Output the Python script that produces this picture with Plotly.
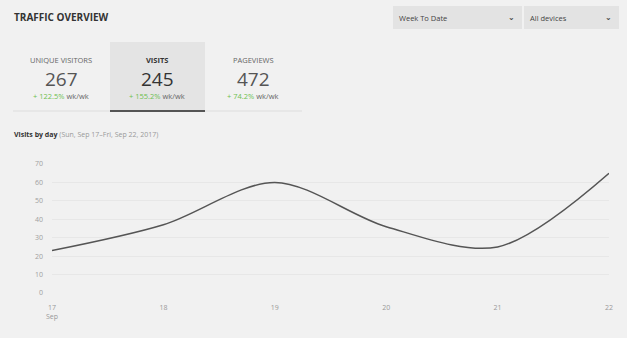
import plotly.graph_objects as go

# ---- data ----
days = [17, 18, 19, 20, 21, 22]
day_labels = ["17<br>Sep", "18", "19", "20", "21", "22"]
visits = [23, 37, 60, 36, 25, 65]
y_ticks = [0, 10, 20, 30, 40, 50, 60, 70]

tab_names = ["UNIQUE VISITORS", "VISITS", "PAGEVIEWS"]
tab_values = ["267", "245", "472"]
tab_changes = ["+ 122.5%", "+ 155.2%", "+ 74.2%"]

W, H = 627, 338
L, R, T, B = 52, 609, 164, 293  # plot area in pixels

def px(x):
    return (x - L) / (R - L)

def py(y):
    return (B - y) / (B - T)

FONT = "Open Sans"
BG = "#f1f1f1"

fig = go.Figure()
fig.add_trace(go.Scatter(
    x=days, y=visits, mode="lines",
    line=dict(color="#555555", width=1.5, shape="spline", smoothing=0.9),
    hoverinfo="skip", showlegend=False,
))

shapes = []
annotations = []

# title
annotations.append(dict(x=px(12), y=py(17), xref="paper", yref="paper",
                        text="<b>TRAFFIC OVERVIEW</b>", showarrow=False,
                        xanchor="left", yanchor="middle",
                        font=dict(family=FONT, size=10, color="#333333")))

# dropdowns
for (x0, x1, label) in [(393, 522, "Week To Date"), (524, 619, "All devices")]:
    shapes.append(dict(type="rect", xref="paper", yref="paper",
                       x0=px(x0), x1=px(x1), y0=py(29), y1=py(6),
                       fillcolor="#e3e3e3", line=dict(width=0), layer="below"))
    annotations.append(dict(x=px(x0 + 4), y=py(17.5), xref="paper", yref="paper",
                            text=label, showarrow=False, xanchor="left", yanchor="middle",
                            font=dict(family=FONT, size=7.5, color="#444444")))
    annotations.append(dict(x=px(x1 - 11), y=py(17.5), xref="paper", yref="paper",
                            text="<b>⌄</b>", showarrow=False, xanchor="center", yanchor="middle",
                            font=dict(family="DejaVu Sans", size=8, color="#444444")))

# tabs
shapes.append(dict(type="line", xref="paper", yref="paper",
                   x0=px(13), x1=px(302), y0=py(111), y1=py(111),
                   line=dict(color="#dddddd", width=1)))
shapes.append(dict(type="rect", xref="paper", yref="paper",
                   x0=px(110), x1=px(205), y0=py(112), y1=py(42),
                   fillcolor="#e4e4e4", line=dict(width=0), layer="below"))
shapes.append(dict(type="line", xref="paper", yref="paper",
                   x0=px(110), x1=px(205), y0=py(111), y1=py(111),
                   line=dict(color="#555555", width=2)))

centers = [61, 157, 253]
for i, cx in enumerate(centers):
    sel = i == 1
    annotations.append(dict(x=px(cx), y=py(60), xref="paper", yref="paper",
                            text=(f"<b>{tab_names[i]}</b>" if sel else tab_names[i]),
                            showarrow=False, xanchor="center", yanchor="middle",
                            font=dict(family=FONT, size=7.5, color="#333333" if sel else "#666666")))
    annotations.append(dict(x=px(cx), y=py(79), xref="paper", yref="paper",
                            text=tab_values[i], showarrow=False, xanchor="center", yanchor="middle",
                            font=dict(family=FONT, size=19, color="#333333" if sel else "#555555")))
    annotations.append(dict(x=px(cx), y=py(95.5), xref="paper", yref="paper",
                            text=f"<span style='color:#6dbf4f'>{tab_changes[i]}</span> wk/wk",
                            showarrow=False, xanchor="center", yanchor="middle",
                            font=dict(family=FONT, size=7.5, color="#666666")))

# chart subtitle
annotations.append(dict(x=px(12), y=py(134.5), xref="paper", yref="paper",
                        text="<b>Visits by day</b> <span style='color:#999999'>(Sun, Sep 17–Fri, Sep 22, 2017)</span>",
                        showarrow=False, xanchor="left", yanchor="middle",
                        font=dict(family=FONT, size=7, color="#333333")))

fig.update_layout(
    width=W, height=H,
    margin=dict(l=L, r=W - R, t=T, b=H - B, pad=0),
    paper_bgcolor=BG, plot_bgcolor=BG,
    font=dict(family=FONT, size=7, color="#999999"),
    shapes=shapes, annotations=annotations,
    xaxis=dict(range=[17, 22], tickvals=days, ticktext=day_labels,
               showgrid=False, zeroline=False, showline=False, ticks="",
               ticklabelstandoff=9,
               tickfont=dict(size=7, color="#999999"), fixedrange=True),
    yaxis=dict(range=[0, 70], tickvals=y_ticks, showgrid=True, gridcolor="#e7e7e7",
               gridwidth=1, zeroline=False, showline=False, ticks="",
               ticklabelstandoff=8,
               tickfont=dict(size=7, color="#a0a0a0"), fixedrange=True),
)

fig.write_html("out.html", config={"displayModeBar": False})
